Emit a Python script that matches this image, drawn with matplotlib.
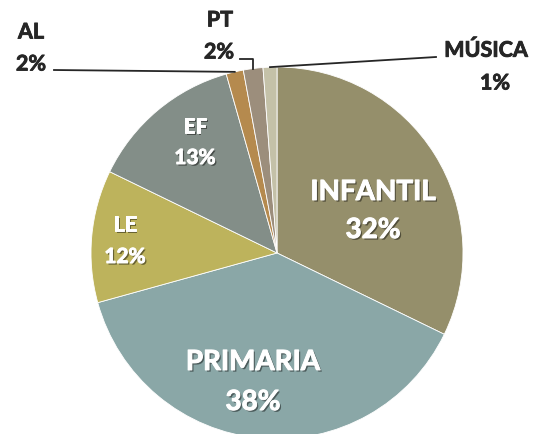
import numpy as np
import matplotlib.pyplot as plt
import matplotlib.patheffects as pe

labels = ["INFANTIL", "PRIMARIA", "LE", "EF", "AL", "PT", "MÚSICA"]
values = [32.2, 38.5, 11.5, 13.4, 1.5, 1.7, 1.2]
pct_labels = ["32%", "38%", "12%", "13%", "2%", "2%", "1%"]
colors = ["#958F6B", "#8AA7A7", "#BDB35C", "#838E88", "#B58A4E", "#9C8E7C", "#C4C1A8"]

W, H = 541, 434
CX, CY, R = 277, H - 253, 186

plt.rcParams["font.family"] = ["Lato", "DejaVu Sans"]
fig = plt.figure(figsize=(W / 100, H / 100), dpi=100)
ax = fig.add_axes([0, 0, 1, 1])
wedges, _ = ax.pie(values, colors=colors, startangle=90, counterclock=False,
                   center=(CX, CY), radius=R,
                   wedgeprops=dict(edgecolor="white", linewidth=0.6))
ax.set_xlim(0, W)
ax.set_ylim(0, H)
ax.set_aspect("equal")
ax.axis("off")

white_fx = [pe.SimplePatchShadow(offset=(1.2, -1.2), shadow_rgbFace="black", alpha=0.45),
            pe.withStroke(linewidth=0.7, foreground="white")]
dark = "#262626"
dark_fx = [pe.withStroke(linewidth=0.6, foreground=dark)]

def edge_point(w, frac=0.5, rr=1.0):
    ang = np.deg2rad(w.theta1 + (w.theta2 - w.theta1) * frac)
    return CX + R * rr * np.cos(ang), CY + R * rr * np.sin(ang)

# inside labels (white, shadowed)
inside = {"INFANTIL": (373, 192, 230, 20), "PRIMARIA": (253, 362, 402, 20),
          "LE": (125, 225, 257, 15), "EF": (195, 127, 158, 15)}
for i, name in enumerate(labels):
    if name in inside:
        x, y1, y2, fs = inside[name]
        for txt, yy in ((name, y1), (pct_labels[i], y2)):
            ax.text(x, H - yy, txt, color="white", fontsize=fs, fontweight="bold",
                    ha="center", va="center", path_effects=white_fx)

def outer(x, y, txt, **kw):
    ax.text(x, H - y, txt, color=dark, fontsize=15.5, fontweight="bold",
            ha="center", va="center", path_effects=dark_fx, **kw)

# AL
i = labels.index("AL")
outer(31, 32, "AL")
outer(31, 64, pct_labels[i])
px, py = edge_point(wedges[i])
ax.plot([54, px], [H - 70, py], color=dark, lw=1.3)

# PT
i = labels.index("PT")
outer(220, 20, "PT")
outer(219, 52, pct_labels[i])
px, py = edge_point(wedges[i])
ax.plot([240, px, px], [H - 59, H - 59, py], color=dark, lw=1.3)

# MÚSICA
i = labels.index("MÚSICA")
outer(486, 50, "MÚSICA")
outer(495, 83, pct_labels[i])
px, py = edge_point(wedges[i])
ax.plot([px, 436], [py, H - 57], color=dark, lw=1.3)

fig.savefig("out.png", dpi=100)
